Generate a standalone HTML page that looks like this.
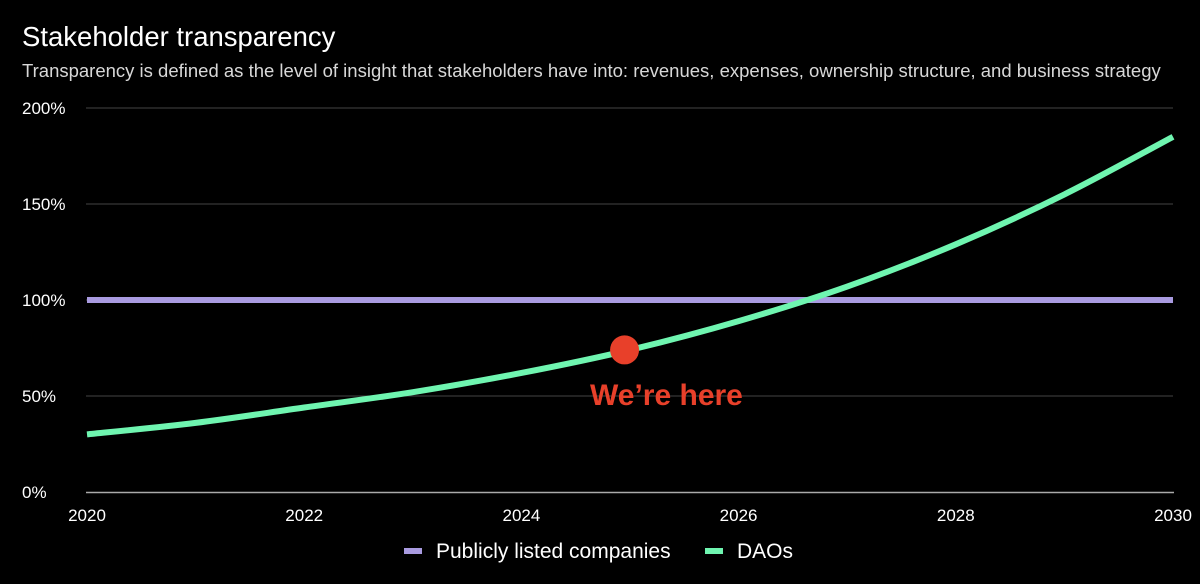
<!DOCTYPE html>
<html><head><meta charset="utf-8"><style>
html,body{margin:0;padding:0;background:#000;width:1200px;height:584px;overflow:hidden;font-family:"Liberation Sans",sans-serif;}
</style></head><body>
<svg width="1200" height="584" xmlns="http://www.w3.org/2000/svg">
<text x="22" y="46" fill="#fff" font-size="27.5">Stakeholder transparency</text>
<text x="22" y="77" fill="#d8d8d8" font-size="18.5">Transparency is defined as the level of insight that stakeholders have into: revenues, expenses, ownership structure, and business strategy</text>
<g id="grid"></g>
<g id="xaxis"></g>
<g id="series"></g>
<g id="annot"></g>
<g>
<rect x="404" y="548" width="18" height="6" fill="#a99be0"/>
<text x="436" y="558" fill="#fff" font-size="21">Publicly listed companies</text>
<rect x="705" y="548" width="18" height="6" fill="#6ff5b0"/>
<text x="737" y="558" fill="#fff" font-size="21">DAOs</text>
</g>
</svg>
<script>
const years=[2020,2021,2022,2023,2024,2025,2026,2027,2028,2029,2030];
const daoValues=[30,36,44,52,62,74,89,107,129,155,185];
const publicValues=[100,100,100,100,100,100,100,100,100,100,100];
const yTicks=[0,50,100,150,200];
const xTicks=[2020,2022,2024,2026,2028,2030];
const hereYear=2024.95, hereValue=74;

const NS="http://www.w3.org/2000/svg";
const X=v=>87+(v-2020)*(1173-87)/10;
const Y=v=>492-v*1.92;
function mk(t,a,p){const e=document.createElementNS(NS,t);for(const k in a)e.setAttribute(k,a[k]);p.appendChild(e);return e;}
const grid=document.getElementById('grid');
yTicks.forEach(t=>{
  if(t>0){const l=mk('line',{x1:86,x2:1173,y1:Y(t),y2:Y(t),stroke:'#444','stroke-width':1},grid);
  
  }
  const tx=mk('text',{x:22,y:Y(t)+6,fill:'#fff','font-size':17},grid);tx.textContent=t+'%';
  
  
});
const xa=document.getElementById('xaxis');
const ax=mk('line',{x1:86,x2:1174,y1:492.5,y2:492.5,stroke:'#aaa','stroke-width':1.5},xa);


xTicks.forEach(t=>{
  const tx=mk('text',{x:X(t),y:521,fill:'#fff','font-size':17,'text-anchor':'middle'},xa);tx.textContent=t;
  
  
});
function path(vals){
  const p=years.map((y,i)=>[X(y),Y(vals[i])]);
  let d='M'+p[0][0]+','+p[0][1];
  for(let i=0;i<p.length-1;i++){
    const p0=p[i-1]||p[i],p1=p[i],p2=p[i+1],p3=p[i+2]||p2;
    d+=' C'+(p1[0]+(p2[0]-p0[0])/6)+','+(p1[1]+(p2[1]-p0[1])/6)+' '+(p2[0]-(p3[0]-p1[0])/6)+','+(p2[1]-(p3[1]-p1[1])/6)+' '+p2[0]+','+p2[1];
  }
  return d;
}
const s=document.getElementById('series');
const pub=mk('path',{d:path(publicValues),fill:'none',stroke:'#a99be0','stroke-width':6},s);


const dao=mk('path',{d:path(daoValues),fill:'none',stroke:'#6ff5b0','stroke-width':6},s);


const an=document.getElementById('annot');
const c=mk('circle',{cx:X(hereYear),cy:Y(hereValue),r:14.5,fill:'#e8402a'},an);


const wt=mk('text',{x:590,y:405,fill:'#e8402a','font-size':30,'font-weight':'bold'},an);wt.textContent='We’re here';


</script>
</body></html>
